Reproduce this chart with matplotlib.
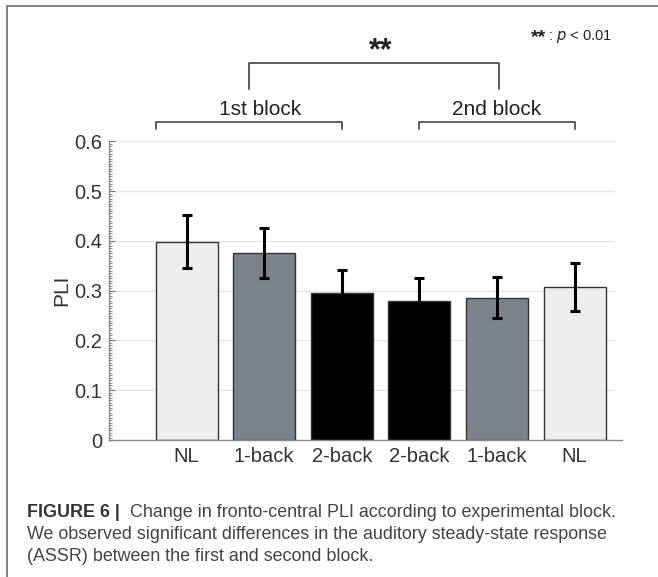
import matplotlib
matplotlib.use("Agg")
import matplotlib.pyplot as plt
import numpy as np

# données
conditions = ["NL", "1-back", "2-back", "2-back", "1-back", "NL"]
pli_moyen = [0.398, 0.375, 0.296, 0.279, 0.286, 0.308]
pli_erreur = [0.053, 0.050, 0.045, 0.046, 0.041, 0.048]
couleurs = ["#eeeeee", "#7b8289", "#000000", "#000000", "#7b8289", "#eeeeee"]

W, H = 658, 577
plt.rcParams['font.family'] = ['Liberation Sans', 'DejaVu Sans']

def fx(x):
    return x / W

def fy(y):
    return 1 - y / H

fig = plt.figure(figsize=(W / 100, H / 100), dpi=100)
ax = fig.add_axes([fx(109), fy(440), fx(622) - fx(109), fy(141.3) - fy(440)])

X = np.arange(len(conditions))
ax.bar(X, pli_moyen, width=0.8, color=couleurs, edgecolor="#333333", linewidth=1.0, zorder=2)
ax.errorbar(X, pli_moyen, yerr=pli_erreur, fmt="none", ecolor="black",
            elinewidth=2.2, capsize=3.5, capthick=2.2, zorder=3)

ax.set_xlim(-1.0, 5.61)
ax.set_ylim(0, 0.6)

# grille horizontale
for v in np.arange(0.1, 0.61, 0.1):
    ax.plot([-1.0, 5.51], [v, v], color="#e6e6e6", linewidth=1.0, zorder=1)

ax.set_xticks(X)
ax.set_xticklabels(conditions)
ax.set_yticks(np.arange(0, 0.61, 0.1))
ax.set_yticklabels(["0", "0.1", "0.2", "0.3", "0.4", "0.5", "0.6"])
ax.set_yticks(np.arange(0, 0.601, 0.005), minor=True)
ax.tick_params(axis="x", length=0, pad=5, labelsize=14.5, labelcolor="#333333")
ax.tick_params(axis="y", which="major", direction="in", length=4, width=0.8,
               color="#777777", pad=5, labelsize=14.5, labelcolor="#333333")
ax.tick_params(axis="y", which="minor", direction="in", length=2.2, width=0.6,
               color="#777777")
for s in ["top", "right"]:
    ax.spines[s].set_visible(False)
for s in ["left", "bottom"]:
    ax.spines[s].set_color("#888888")
    ax.spines[s].set_linewidth(1.0)
ax.set_ylabel("PLI", fontsize=15, color="#333333", labelpad=2)

# accolades de comparaison
bk = dict(color="#333333", linewidth=1.1, clip_on=False)
ax.plot([-0.4, -0.4, 2.0, 2.0], [0.624, 0.639, 0.639, 0.624], **bk)
ax.plot([3.0, 3.0, 5.0, 5.0], [0.624, 0.639, 0.639, 0.624], **bk)
ax.plot([0.8, 0.8, 4.02, 4.02], [0.705, 0.757, 0.757, 0.705], **bk)
ax.text(0.95, 0.652, "1st block", ha="center", va="baseline", fontsize=15, color="#222222")
ax.text(3.99, 0.652, "2nd block", ha="center", va="baseline", fontsize=15, color="#222222")
ax.text(2.5, 0.764, "**", ha="center", va="baseline", fontsize=22, fontweight="bold", color="#222222")

fig.text(fx(531), fy(42), "**", ha="left", va="baseline", fontsize=14, fontweight="bold", color="#222222")
fig.text(fx(548), fy(40), ": $p$ < 0.01", ha="left", va="baseline", fontsize=10.5, color="#222222")

# cadre
fig.add_artist(plt.Line2D([fx(7), fx(658)], [fy(6), fy(6)], color="#777777", linewidth=1.3))
fig.add_artist(plt.Line2D([fx(7), fx(7)], [fy(6), fy(577)], color="#777777", linewidth=1.3))

# légende de la figure
fig.text(fx(27), fy(517), "FIGURE 6 |", fontsize=12.9, fontweight="bold", color="#333333", va="baseline")
fig.text(fx(130), fy(517), "Change in fronto-central PLI according to experimental block.",
         fontsize=12.9, color="#444444", va="baseline")
fig.text(fx(27), fy(539), "We observed significant differences in the auditory steady-state response",
         fontsize=12.9, color="#444444", va="baseline")
fig.text(fx(27), fy(561), "(ASSR) between the first and second block.",
         fontsize=12.9, color="#444444", va="baseline")

plt.savefig("out.png", dpi=100)
